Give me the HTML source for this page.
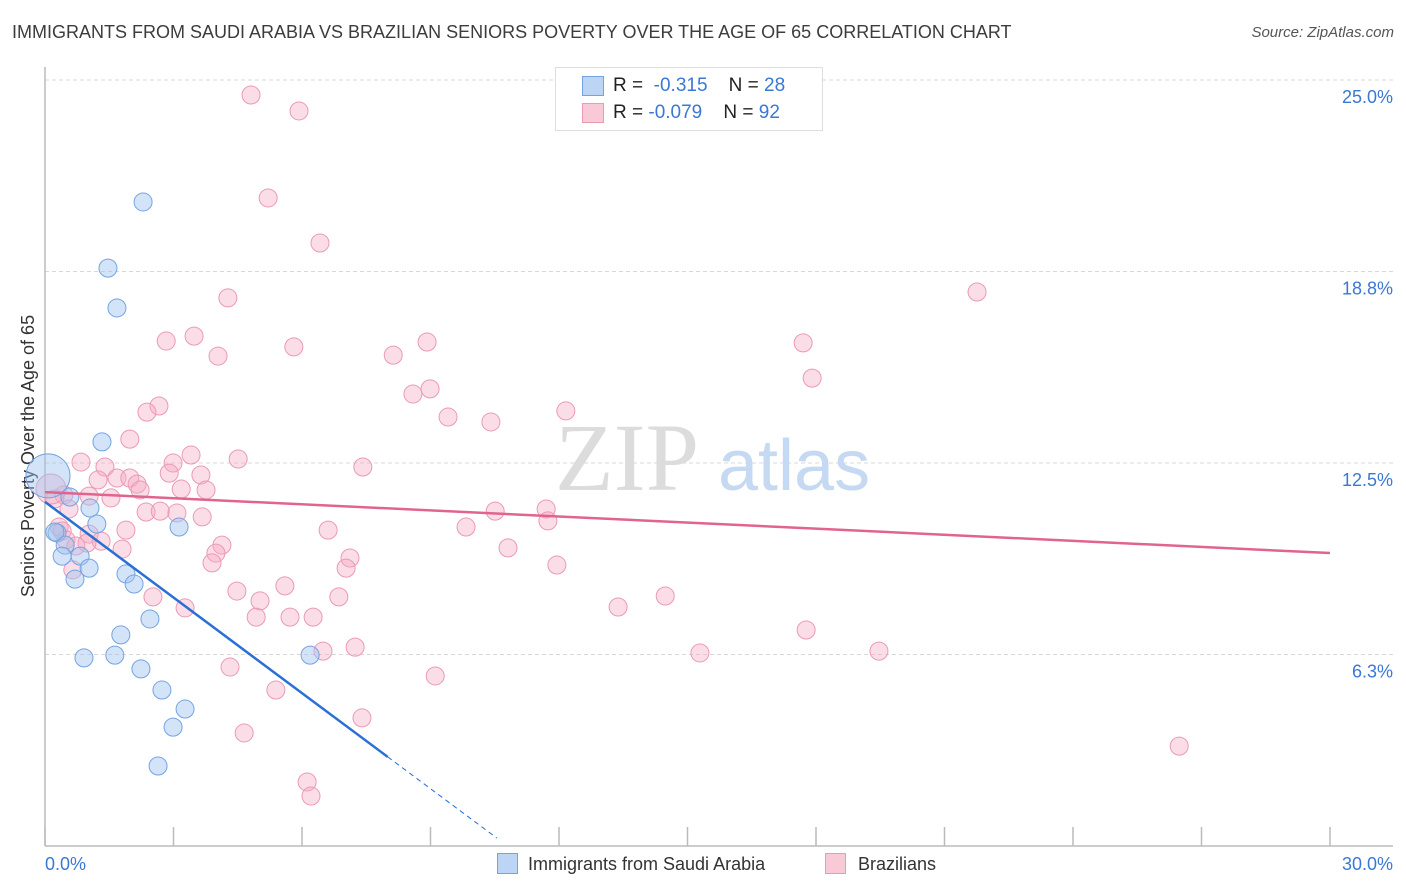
<!DOCTYPE html>
<html><head><meta charset="utf-8"><style>
body{margin:0;background:#fff;font-family:"Liberation Sans",sans-serif;}
#wrap{position:relative;width:1406px;height:892px;overflow:hidden;}
.t{position:absolute;white-space:nowrap;}
</style></head><body>
<div id="wrap">
<div class="t" style="left:12px;top:22px;font-size:18px;color:#3c3c3c;">IMMIGRANTS FROM SAUDI ARABIA VS BRAZILIAN SENIORS POVERTY OVER THE AGE OF 65 CORRELATION CHART</div>
<div class="t" style="right:12px;top:24px;font-size:15px;font-style:italic;color:#555;">Source: ZipAtlas.com</div>
<svg id="svg" width="1406" height="892" style="position:absolute;left:0;top:0"></svg>
</div>
<script>
const blueX=[2.29,1.47,1.68,1.33,0.58,1.05,1.21,3.13,0.28,0.47,0.40,0.82,1.03,0.70,1.89,2.08,2.45,1.77,0.91,1.63,2.24,6.19,2.73,3.27,2.99,2.64,0.07,0.23];
const blueY=[21.02,18.86,17.56,13.19,11.39,11.03,10.51,10.41,10.22,9.82,9.46,9.46,9.07,8.71,8.88,8.55,7.41,6.89,6.14,6.23,5.78,6.23,5.09,4.47,3.88,2.61,12.08,10.25];
const pinkX=[4.81,5.93,5.21,6.42,4.27,21.76,2.83,3.48,4.04,5.81,8.13,8.92,17.70,17.91,8.59,8.99,2.66,2.38,9.41,10.41,12.16,1.98,0.84,1.40,3.41,2.99,4.51,7.42,1.68,3.64,2.90,1.98,2.15,2.22,3.18,3.76,1.24,1.03,1.54,0.44,0.23,0.14,0.56,2.36,2.69,3.08,3.67,6.61,9.83,10.51,11.70,11.74,1.89,1.03,0.33,0.40,0.49,1.31,0.98,1.80,4.13,3.99,3.90,7.12,7.03,10.81,11.95,0.72,0.65,2.52,4.48,5.60,5.02,6.86,3.27,4.93,5.72,6.26,13.38,14.48,17.77,6.49,7.24,15.29,19.47,4.32,9.11,5.39,7.40,4.65,26.48,6.12,6.21];
const pinkY=[24.51,23.99,21.15,19.68,17.89,18.08,16.48,16.64,15.99,16.29,16.02,16.45,16.42,15.27,14.75,14.92,14.36,14.16,14.0,13.84,14.20,13.28,12.53,12.37,12.76,12.50,12.63,12.37,12.01,12.11,12.17,12.01,11.81,11.62,11.65,11.62,11.95,11.42,11.36,11.46,11.33,11.65,11.0,10.90,10.93,10.87,10.74,10.31,10.41,10.93,11.0,10.61,10.31,10.18,10.41,10.28,9.99,9.95,9.89,9.69,9.82,9.56,9.24,9.40,9.07,9.73,9.17,9.79,9.01,8.13,8.32,8.49,8.0,8.13,7.77,7.47,7.47,7.47,7.80,8.16,7.05,6.36,6.49,6.30,6.36,5.84,5.55,5.09,4.18,3.69,3.26,2.09,1.63];
const blueTrend=[11.23,-1.04]; // intercept, slope
const pinkTrend=[11.55,-0.0663];
const yTicks=[25.0,18.8,12.5,6.3];
const yTickVals=[25,18.75,12.5,6.25];
const xTickLabels=["0.0%","30.0%"];
const X0=45,X1=1330,Y0=846,Y1=80;
const sx=v=>X0+(v/30)*(X1-X0);
const sy=v=>Y0-(v/25)*(Y0-Y1);
const svg=document.getElementById('svg');
const NS='http://www.w3.org/2000/svg';
function mk(t,a){const e=document.createElementNS(NS,t);for(const k in a)e.setAttribute(k,a[k]);svg.appendChild(e);return e;}
// gridlines
yTickVals.forEach((v,i)=>{
 const g=mk('line',{x1:X0,x2:1393,y1:sy(v),y2:sy(v),stroke:'#d8d8d8','stroke-dasharray':'4,3'});
 
 
 const t=mk('text',{x:1393,y:sy(v)+23,'text-anchor':'end','font-size':18,fill:'#3a78d4','font-family':'Liberation Sans'});
 t.textContent=yTicks[i].toFixed(1)+'%';
 
 
});
// watermark
const w1=mk('text',{x:555,y:490,'font-size':96,fill:'#dcdcdc','font-family':'Liberation Serif'});w1.textContent='ZIP';


const w2=mk('text',{x:718,y:490,'font-size':72,fill:'#c6d9f2','font-family':'Liberation Sans'});w2.textContent='atlas';


// axes
const ax=mk('line',{x1:X0,x2:1393,y1:Y0,y2:Y0,stroke:'#bbb','stroke-width':1.5});


const ay=mk('line',{x1:X0,x2:X0,y1:67,y2:Y0,stroke:'#bbb','stroke-width':1.5});


for(let i=0;i<=10;i++){const tk=mk('line',{x1:sx(i*3),x2:sx(i*3),y1:827,y2:Y0,stroke:'#bbb','stroke-width':1.5});

}
const xl0=mk('text',{x:45,y:870,'font-size':18,fill:'#3a78d4','font-family':'Liberation Sans'});xl0.textContent=xTickLabels[0];


const xl1=mk('text',{x:1393,y:870,'text-anchor':'end','font-size':18,fill:'#3a78d4','font-family':'Liberation Sans'});xl1.textContent=xTickLabels[1];


const yt=mk('text',{x:34,y:456,'text-anchor':'middle','font-size':18,fill:'#333',transform:'rotate(-90 34 456)','font-family':'Liberation Sans'});yt.textContent='Seniors Poverty Over the Age of 65';


// points
pinkX.forEach((x,i)=>{const c=mk('circle',{cx:sx(x),cy:sy(pinkY[i]),r:(i==41?15:9),fill:'rgba(244,170,195,0.4)',stroke:'#eb9ab4','stroke-width':1});

});
blueX.forEach((x,i)=>{const c=mk('circle',{cx:sx(x),cy:sy(blueY[i]),r:(i==26?22:9),fill:'rgba(160,195,240,0.45)',stroke:'#74a3e2','stroke-width':1});

});
// trend lines
const pl=mk('line',{x1:sx(0),y1:sy(pinkTrend[0]),x2:sx(30),y2:sy(pinkTrend[0]+pinkTrend[1]*30),stroke:'#e0648e','stroke-width':2.5});


const bl=mk('line',{x1:sx(0),y1:sy(blueTrend[0]),x2:sx(8),y2:sy(blueTrend[0]+blueTrend[1]*8),stroke:'#2a6fd6','stroke-width':2.5});


const bd=mk('line',{x1:sx(8),y1:sy(blueTrend[0]+blueTrend[1]*8),x2:sx(10.55),y2:sy(blueTrend[0]+blueTrend[1]*10.55),stroke:'#2a6fd6','stroke-width':1,'stroke-dasharray':'5,4'});


</script>
<div class="t" style="left:555px;top:67px;width:266px;height:62px;border:1px solid #ddd;background:#fff;"></div>
<div class="t" style="left:582px;top:76px;width:20px;height:18px;background:#bcd5f5;border:1px solid #74a3e2;"></div>
<div class="t" style="left:582px;top:103px;width:20px;height:18px;background:#f9c9d7;border:1px solid #eb9ab4;"></div>
<div class="t" style="left:613px;top:75px;font-size:19px;color:#222;">R = &nbsp;<span style="color:#3a78d4">-0.315</span>&nbsp;&nbsp;&nbsp; N = <span style="color:#3a78d4">28</span></div>
<div class="t" style="left:613px;top:102px;font-size:19px;color:#222;">R = <span style="color:#3a78d4">-0.079</span>&nbsp;&nbsp;&nbsp; N = <span style="color:#3a78d4">92</span></div>
<div class="t" style="left:497px;top:853px;font-size:18px;color:#333;"><span style="display:inline-block;width:19px;height:19px;background:#bcd5f5;border:1px solid #74a3e2;vertical-align:-4px;margin-right:10px"></span>Immigrants from Saudi Arabia</div>
<div class="t" style="left:825px;top:853px;font-size:18px;color:#333;"><span style="display:inline-block;width:19px;height:19px;background:#f9c9d7;border:1px solid #eb9ab4;vertical-align:-4px;margin-right:12px"></span>Brazilians</div>
</body></html>
